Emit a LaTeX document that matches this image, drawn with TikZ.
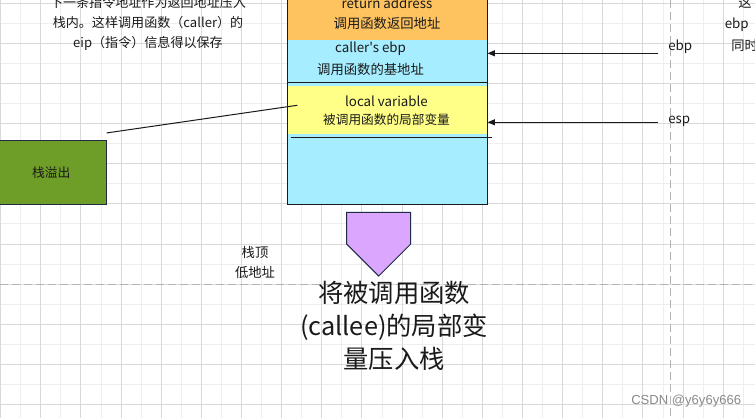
\documentclass[tikz,border=0pt]{standalone}
\usepackage{fontspec}
\setmainfont{Noto Sans CJK SC}
\newfontfamily\plainfont{Noto Sans CJK SC}
\newfontfamily\markfont{Liberation Sans}
\usetikzlibrary{arrows.meta}
\definecolor{retorange}{HTML}{FEC35E}
\definecolor{ebpcyan}{HTML}{A6EDFF}
\definecolor{localyellow}{HTML}{FFFF88}
\definecolor{overflowgreen}{HTML}{6F9E28}
\definecolor{pushpurple}{HTML}{DAA6FE}
\definecolor{edgenavy}{HTML}{1F2A44}
\definecolor{gridminor}{HTML}{EEEEEE}
\definecolor{gridmajor}{HTML}{D9D9D9}
\definecolor{guidegray}{HTML}{B3B3B3}
\definecolor{inkdark}{HTML}{1A1A1A}
\definecolor{watermark}{HTML}{8A8A8A}
\tikzset{
  cell text/.style={inner sep=0.75pt, text=inkdark, font=\fontsize{10}{12}\selectfont},
  note text/.style={inner sep=0.75pt, align=center, text=inkdark, font=\fontsize{9.8}{15}\selectfont},
  frame/.style={draw=inkdark, line width=0.75pt},
  pointer/.style={draw=inkdark, line width=0.75pt, -{Triangle[length=5.5pt,width=4.5pt]}},
  guide/.style={draw=guidegray, line width=0.75pt, dash pattern=on 6pt off 3pt},
}
\begin{document}
\begin{tikzpicture}[x=0.75pt,y=0.75pt,yscale=-1,xscale=1]
	\useasboundingbox (0,0) rectangle (755,418);
	\clip (0,0) rectangle (755,418);
	\fill[white] (0,0) rectangle (755,418);
	\foreach \k in {0,...,18} \draw[gridminor, line width=0.75pt] ({20.77+40.14*\k},0) -- ++(0,418);
	\foreach \k in {0,...,10} \draw[gridminor, line width=0.75pt] (0,{23.36+40.12*\k}) -- ++(755,0);
	\foreach \k in {0,...,18} \draw[gridmajor, line width=0.75pt] ({0.7+40.14*\k},0) -- ++(0,418);
	\foreach \k in {0,...,10} \draw[gridmajor, line width=0.75pt] (0,{3.3+40.12*\k}) -- ++(755,0);
	\draw[guide] (670.7,0) -- (670.7,418);
	\draw[guide] (0,284.3) -- (755,284.3);

	\node[fill=ebpcyan, minimum width=150pt, minimum height=175.5pt, inner sep=0pt, anchor=south west] (stack) at (287,204) {};
	\fill[retorange] (287,-30) rectangle (487,40);
	\fill[localyellow] (287,85.7) rectangle (487,134);
	\draw[frame] (287,82.3) -- (487,82.3);
	\draw[frame] (290.7,137.7) -- (491.7,137.7);
	\draw[frame] (stack.south west) rectangle (stack.north east);

	\node[cell text] (ret en) at (387,3.5) {return address};
	\node[cell text] (ret cn) at (387,23.5) {调用函数返回地址};
	\node[cell text, font=\plainfont\fontsize{10}{12}\selectfont] (ebp en) at (370.5,48.5) {caller's ebp};
	\node[cell text] (ebp cn) at (370.5,69.5) {调用函数的基地址};
	\node[cell text] (local en) at (386.5,101) {local variable};
	\node[cell text, font=\fontsize{9.5}{12}\selectfont] (local cn) at (386.5,119.5) {被调用函数的局部变量};

	\node[cell text, anchor=west] (ebp label) at (667,46.5) {ebp};
	\node[cell text, anchor=west] (esp label) at (667,121) {esp};
	\coordinate (ebp tail) at (658.3,53.3);
	\coordinate (esp tail) at (657.7,122.3);
	\draw[pointer] (ebp tail) -- (ebp tail -| stack.east);
	\draw[pointer] (esp tail) -- (esp tail -| stack.east);

	\node[draw=edgenavy, fill=overflowgreen, line width=0.75pt, minimum width=82.3pt, minimum height=48pt, inner sep=0pt, anchor=north east, text=inkdark, font=\fontsize{9.6}{12}\selectfont] (overflow) at (106.7,140) {栈溢出};
	\coordinate (local hook) at (297.3,105.3);
	\draw[frame] ([yshift=-5.3pt]overflow.north east) -- (local hook);

	\draw[draw=edgenavy, fill=pushpurple, line width=0.75pt] (346.7,212.3) -- (410.7,212.3) -- (410.7,244) -- (378.7,276) -- (346.7,244) -- cycle;

	\node[note text] (push note) at (148,23) {下一条指令地址作为返回地址压入\\栈内。这样调用函数（caller）的\\eip（指令）信息得以保存};
	\node[note text, font=\fontsize{10}{15}\selectfont] (top label) at (255,262.7) {栈顶\\低地址};
	\node[inner sep=0.75pt, align=center, text=inkdark, font=\fontsize{19}{25}\selectfont] (push text) at (394,326) {将被调用函数\\(callee)的局部变\\量压入栈};

	\node[cell text, anchor=west] (cut a) at (737,2) {这};
	\node[cell text, anchor=west] (cut b) at (723.5,25) {ebp};
	\node[cell text, anchor=west] (cut c) at (730,45.5) {同时};

	\node[anchor=west, inner sep=0pt, text=watermark, font=\markfont\fontsize{9.8}{12}\selectfont] (mark) at (631,401.5) {CSDN @y6y6y666};
\end{tikzpicture}
\end{document}
